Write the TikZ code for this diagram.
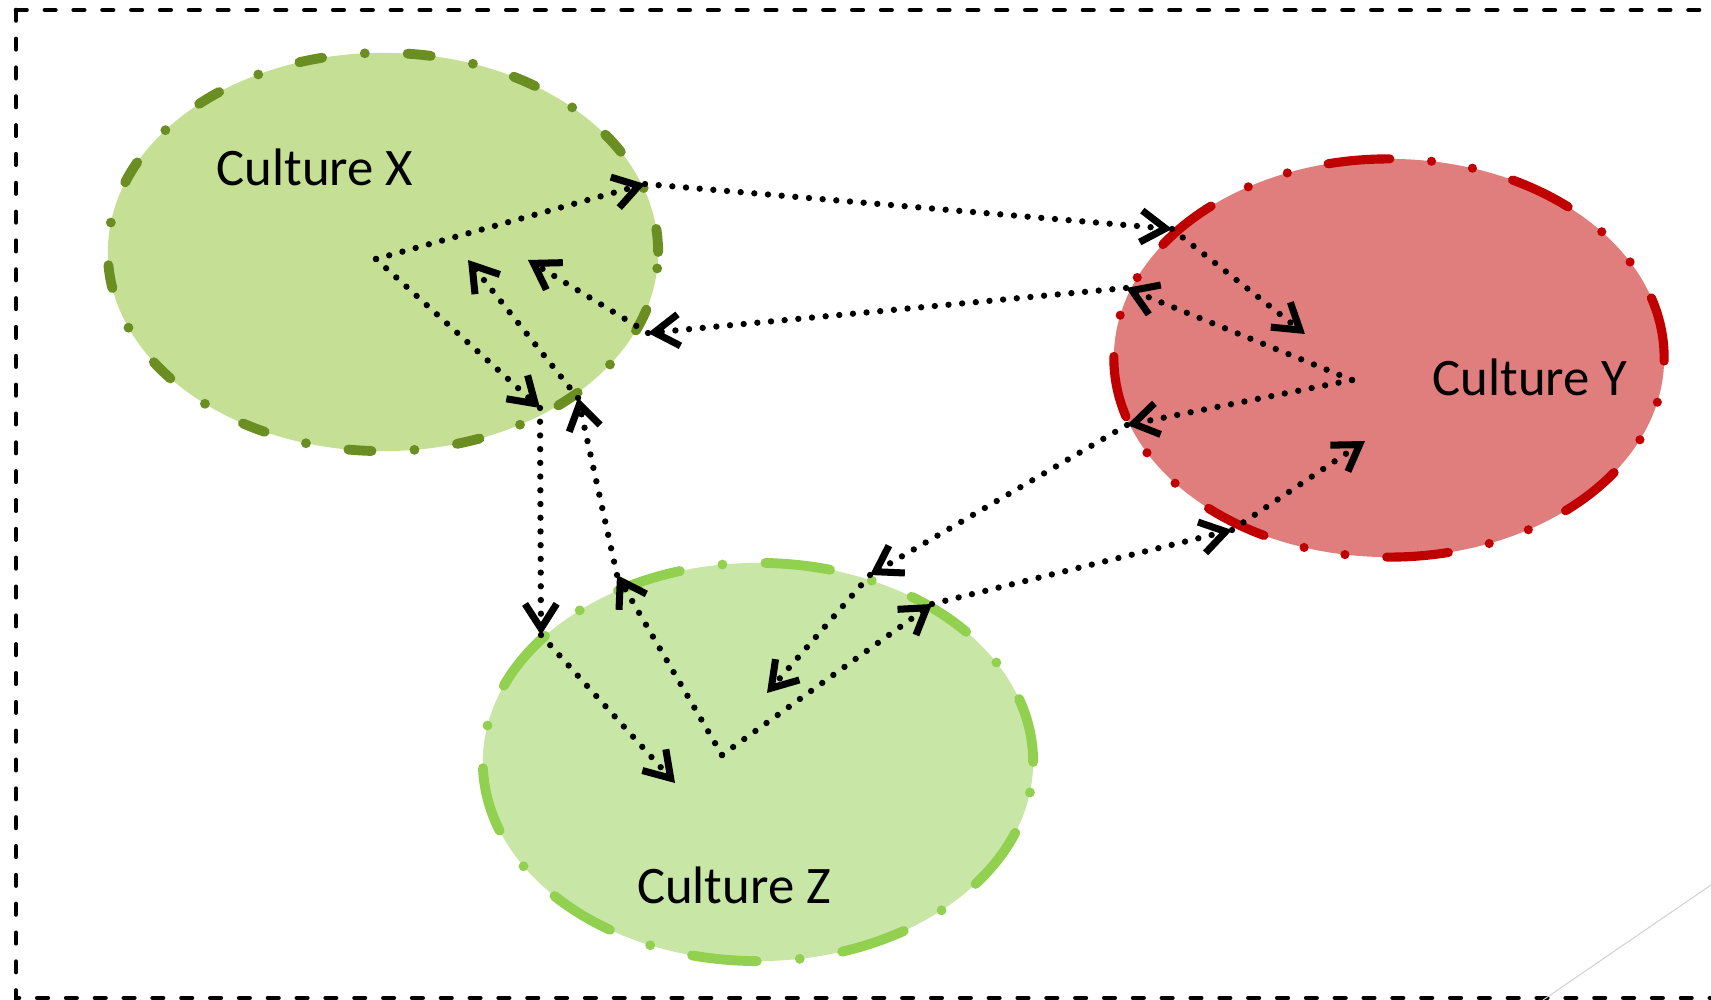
\documentclass[tikz,border=0pt]{standalone}
\usepackage{fontspec}
\setmainfont{Carlito}
\usetikzlibrary{shapes.geometric, arrows.meta}
\definecolor{olive_drab}{RGB}{107, 142, 35}
\definecolor{pale_olive}{RGB}{197, 224, 148}
\definecolor{brick_red}{RGB}{192, 0, 0}
\definecolor{dusty_rose}{RGB}{224, 126, 126}
\definecolor{leaf_green}{RGB}{146, 208, 80}
\definecolor{pale_leaf}{RGB}{200, 230, 166}

\begin{document}
\begin{tikzpicture}[
    x=0.01cm, y=-0.01cm,
    % Culture ellipse style
    culture/.style={
        ellipse,
        minimum width=5.5cm,
        minimum height=3.98cm,
        inner sep=0pt,
        line cap=round,
        draw=#1
    },
    % Culture name text
    cname/.style={
        anchor=base,
        font=\fontsize{15}{18}\selectfont
    },
    % Dotted flow between cultures
    flow/.style={
        black,
        line width=1.8pt,
        line cap=round,
        dash pattern=on 0pt off 3.9pt,
        -{Straight Barb[length=7pt, width=9pt, line width=2pt]}
    },
    % Dashed outer box
    boxline/.style={
        line width=1.3pt,
        line cap=round,
        dash pattern=on 3pt off 5.2pt
    }
]
\useasboundingbox (0,0) rectangle (1711,1000);

% Outer box
\draw[boxline] (16,10) -- (1711,10);
\draw[boxline] (16,10) -- (16,998) -- (1711,998);
\draw[gray!35, line width=0.3pt] (1543,1000) -- (1711,885);

% The three cultures
\node[culture=olive_drab, fill=pale_olive, line width=2.8pt,
      dash pattern=on 6.6pt off 12.2pt on 0pt off 12.2pt] (cx) at (383,252) {};
\node[culture=brick_red, fill=dusty_rose, line width=2.6pt,
      dash pattern=on 17.6pt off 11.9pt on 0pt off 11.8pt on 0pt off 11.9pt] (cy) at (1389,358) {};
\node[culture=leaf_green, fill=pale_leaf, line width=2.8pt,
      dash pattern=on 18.5pt off 12.25pt on 0pt off 12.25pt] (cz) at (758,762) {};

\node[cname] (namex) at (315,185) {Culture X};
\node[cname] (namey) at (1530,395) {Culture Y};
\node[cname] (namez) at (734,903) {Culture Z};

% Hubs inside each culture
\coordinate (xhub) at (376,259);
\coordinate (yhub) at (1352,380);
\coordinate (zhub) at (722,755);

% X to Y
\coordinate (xy1) at (645,184);
\coordinate (xy2) at (1172,229);
\coordinate (xy3) at (1305,334);
% Y to X
\coordinate (yx1) at (1126,288);
\coordinate (yx2) at (648,333);
\coordinate (yx3) at (528,260);
% X to Z
\coordinate (xz1) at (540,408);
\coordinate (xz2) at (541,635);
\coordinate (xz3) at (675,783);
% Z to X
\coordinate (zx1) at (617,575);
\coordinate (zx2) at (578,398);
\coordinate (zx3) at (468,260);
% Y to Z
\coordinate (yz1) at (1127,425);
\coordinate (yz2) at (870,575);
\coordinate (yz3) at (767,693);
% Z to Y
\coordinate (zy1) at (932,604);
\coordinate (zy2) at (1232,530);
\coordinate (zy3) at (1365,441);

\draw[flow] (xhub) -- (xy1);
\draw[flow] (xy1) -- (xy2);
\draw[flow] (xy2) -- (xy3);

\draw[flow] (yhub) -- (yx1);
\draw[flow] (yx1) -- (yx2);
\draw[flow] (yx2) -- (yx3);

\draw[flow] (xhub) -- (xz1);
\draw[flow] (xz1) -- (xz2);
\draw[flow] (xz2) -- (xz3);

\draw[flow] (zhub) -- (zx1);
\draw[flow] (zx1) -- (zx2);
\draw[flow] (zx2) -- (zx3);

\draw[flow] (yhub) -- (yz1);
\draw[flow] (yz1) -- (yz2);
\draw[flow] (yz2) -- (yz3);

\draw[flow] (zhub) -- (zy1);
\draw[flow] (zy1) -- (zy2);
\draw[flow] (zy2) -- (zy3);

\end{tikzpicture}
\end{document}
